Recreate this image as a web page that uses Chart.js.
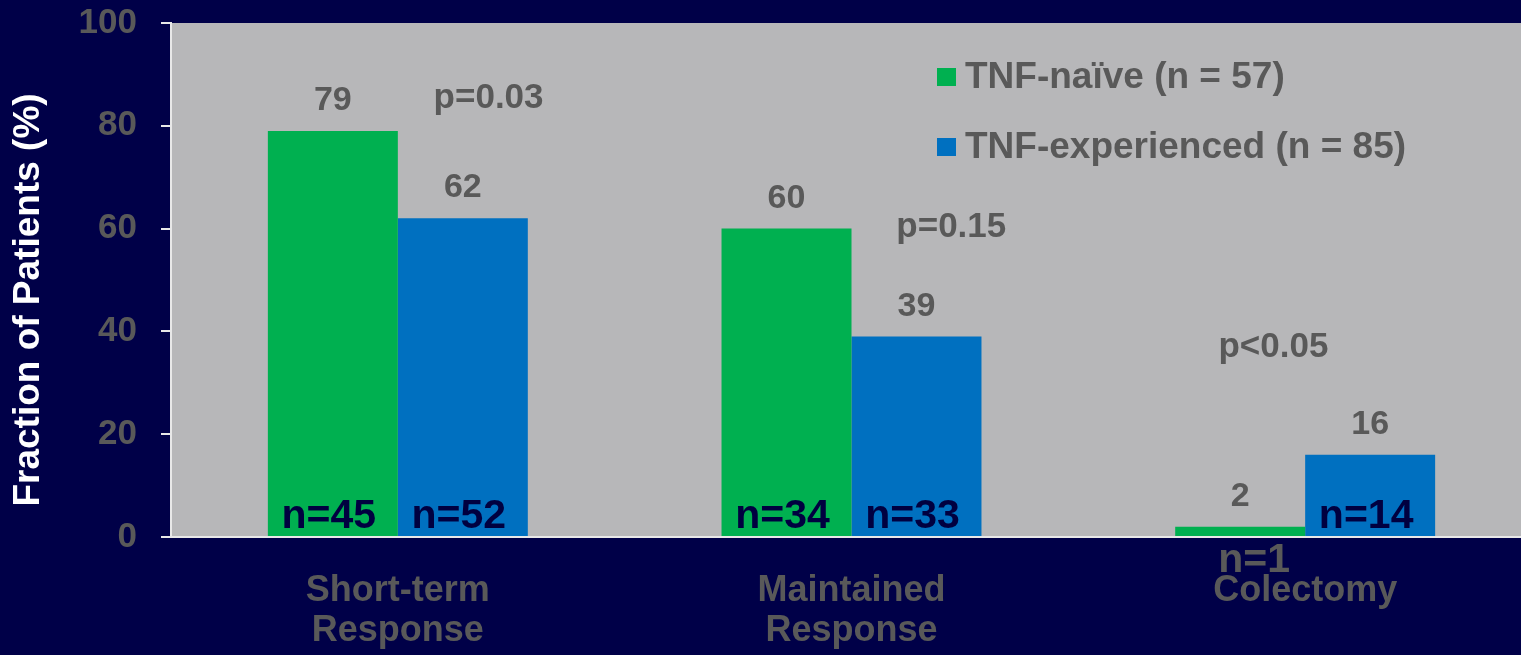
<!DOCTYPE html>
<html>
<head>
<meta charset="utf-8">
<title>Response and colectomy by TNF exposure</title>
<script src="https://cdn.jsdelivr.net/npm/chart.js@4"></script>
<style>
  html, body { margin: 0; padding: 0; background: #000048; overflow: hidden; }
  #wrap { position: absolute; left: 0; top: 0; width: 1532px; height: 655px; }
</style>
</head>
<body>
<div id="wrap"><canvas id="chart" width="1532" height="655"></canvas></div>
<script>
// ---- data ----
const categories = [['Short-term', 'Response'], ['Maintained', 'Response'], 'Colectomy'];
const naiveValues = [79, 60, 2];
const experiencedValues = [62, 39, 16];
const naiveCounts = [45, 34, 1];
const experiencedCounts = [52, 33, 14];
const pValues = ['p=0.03', 'p=0.15', 'p<0.05'];
const seriesNames = ['TNF-naïve (n = 57)', 'TNF-experienced (n = 85)'];
const yTicks = [0, 20, 40, 60, 80, 100];

// ---- styling ----
const NAVY = '#000048';
const PLOT_BG = '#b7b7b9';
const TEXT_GRAY = '#595959';
const COUNT_TEXT = '#000040';
const FONT = '"Liberation Sans", Arial, sans-serif';
const GREEN = '#00b050';
const BLUE = '#0070c0';

// where each p-value sits: offset from the category centre (in category widths) and height in % units
const pPlacement = [
  { dx: 0.20, y: 83.5 },
  { dx: 0.22, y: 58.4 },
  { dx: -0.07, y: 35 }
];

const backgroundPlugin = {
  id: 'backgrounds',
  beforeDraw(chart) {
    const { ctx, chartArea: a } = chart;
    ctx.save();
    ctx.fillStyle = NAVY;
    ctx.fillRect(0, 0, chart.width, chart.height);
    ctx.fillStyle = PLOT_BG;
    ctx.fillRect(a.left, a.top, a.right - a.left, a.bottom - a.top);
    ctx.restore();
  }
};

const annotationPlugin = {
  id: 'annotations',
  afterDraw(chart) {
    const { ctx, chartArea: a } = chart;
    const x = chart.scales.x, y = chart.scales.y;
    const counts = [naiveCounts, experiencedCounts];
    ctx.save();

    // value labels above bars, count labels at the foot of each bar
    chart.data.datasets.forEach((ds, di) => {
      const meta = chart.getDatasetMeta(di);
      meta.data.forEach((bar, i) => {
        ctx.font = 'bold 34px ' + FONT;
        ctx.fillStyle = TEXT_GRAY;
        ctx.textAlign = 'center';
        ctx.textBaseline = 'alphabetic';
        ctx.fillText(String(ds.data[i]), bar.x, bar.y - 21);

        ctx.font = 'bold 41px ' + FONT;
        const label = 'n=' + counts[di][i];
        const barHeight = y.getPixelForValue(0) - bar.y;
        if (barHeight > 40) {
          ctx.fillStyle = COUNT_TEXT;
          ctx.fillText(label, bar.x - 4, y.getPixelForValue(0) - 9);
        } else {
          ctx.fillStyle = TEXT_GRAY;
          ctx.fillText(label, bar.x + 14, y.getPixelForValue(0) + 35);
        }
      });
    });

    // p-values between the paired bars
    const catWidth = (x.right - x.left) / categories.length;
    ctx.font = 'bold 35px ' + FONT;
    ctx.fillStyle = TEXT_GRAY;
    ctx.textAlign = 'center';
    pValues.forEach((txt, i) => {
      const px = x.getPixelForValue(i) + pPlacement[i].dx * catWidth;
      ctx.fillText(txt, px, y.getPixelForValue(pPlacement[i].y));
    });

    // legend inside the plot area
    ctx.font = 'bold 37px ' + FONT;
    ctx.textAlign = 'left';
    ctx.textBaseline = 'middle';
    chart.data.datasets.forEach((ds, di) => {
      const lx = a.left + 766;
      const ly = a.top + 54 + di * 70;
      ctx.fillStyle = ds.backgroundColor;
      ctx.fillRect(lx, ly - 9, 19, 18);
      ctx.fillStyle = TEXT_GRAY;
      ctx.fillText(ds.label, lx + 28, ly + 1);
    });

    // y-axis title
    ctx.translate(29, 300);
    ctx.rotate(-Math.PI / 2);
    ctx.font = 'bold 37px ' + FONT;
    ctx.fillStyle = '#ffffff';
    ctx.textAlign = 'center';
    ctx.textBaseline = 'middle';
    ctx.fillText('Fraction of Patients (%)', 0, 0);
    ctx.restore();
  }
};

new Chart(document.getElementById('chart'), {
  type: 'bar',
  data: {
    labels: categories,
    datasets: [
      { label: seriesNames[0], data: naiveValues, backgroundColor: GREEN,
        categoryPercentage: 0.573, barPercentage: 1.0 },
      { label: seriesNames[1], data: experiencedValues, backgroundColor: BLUE,
        categoryPercentage: 0.573, barPercentage: 1.0 }
    ]
  },
  options: {
    responsive: false,
    devicePixelRatio: 1,
    animation: false,
    layout: { padding: { top: 23, right: 0, left: 0, bottom: 0 } },
    plugins: {
      legend: { display: false },
      tooltip: { enabled: false },
      title: { display: false }
    },
    scales: {
      x: {
        grid: { display: true, drawOnChartArea: false, drawTicks: false },
        border: { display: true, color: '#e8e8e8', width: 2 },
        ticks: {
          color: TEXT_GRAY,
          font: { family: FONT, size: 36, weight: 'bold', lineHeight: 1.12 },
          padding: 34,
          maxRotation: 0,
          autoSkip: false
        },
        afterFit(scale) { scale.height = 118; }
      },
      y: {
        min: 0,
        max: 100,
        afterBuildTicks(scale) { scale.ticks = yTicks.map(v => ({ value: v })); },
        grid: { display: true, drawOnChartArea: false, drawTicks: true, tickLength: 10,
                color: '#e8e8e8', lineWidth: 2 },
        border: { display: true, color: '#e8e8e8', width: 2 },
        ticks: {
          color: TEXT_GRAY,
          font: { family: FONT, size: 35, weight: 'bold' },
          padding: 24
        },
        afterFit(scale) {
          scale.width = 171;
          scale.paddingTop = 20;
          scale.paddingBottom = 0;
        }
      }
    }
  },
  plugins: [backgroundPlugin, annotationPlugin]
});
</script>
</body>
</html>
